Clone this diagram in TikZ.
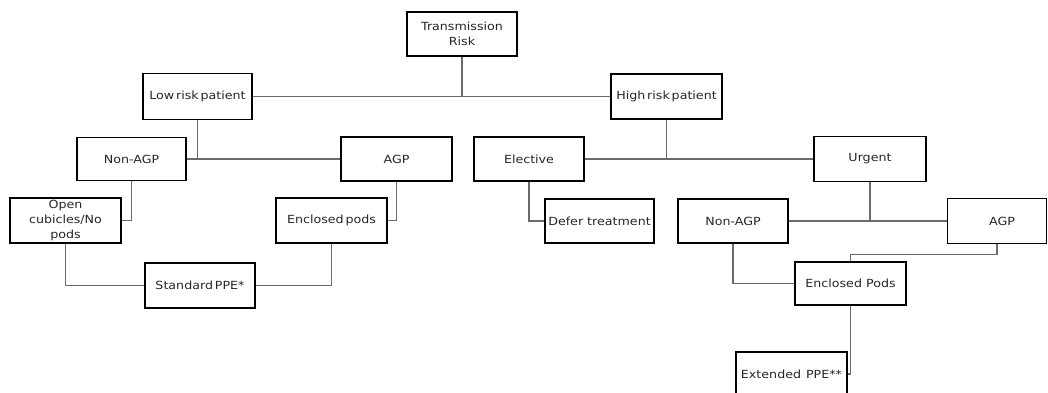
\documentclass[tikz,border=0pt]{standalone}
\usepackage{fontspec}
\newfontfamily\boxfont[FakeStretch=1.13]{DejaVu Sans}
\begin{document}
\begin{tikzpicture}[x=1pt,y=-1pt,
  box/.style={draw=black,line width=1.7pt,fill=white,text=black!85,
    font=\boxfont\fontsize{11.2}{14.5}\selectfont,align=center,
    inner sep=1pt,minimum width=#1,minimum height=44pt},
  box/.default=110pt,
  link/.style={draw=black!58,line width=1.3pt}]
\clip (0,0) rectangle (1048,392);
\fill[white] (0,0) rectangle (1048,392);
% nodes
\node[box] (tr) at (462,34) {Transmission\\Risk};
\node[box=109pt,minimum height=46pt] (low) at (197.5,96.5) {Low\,risk\,patient};
\node[box=111pt,minimum height=45pt] (high) at (666.5,96.5) {High\,risk\,patient};
\node[box=109pt,minimum height=43pt] (nonl) at (131.5,159) {Non-AGP};
\node[box=111pt] (agpl) at (396.5,159) {AGP};
\node[box] (elec) at (529,159) {Elective};
\node[box=112pt,minimum height=45pt] (urg) at (870,159) {Urgent};
\node[box=111pt,minimum height=45pt] (open) at (65.5,220.5) {Open\\cubicles/No\\pods};
\node[box=111pt,minimum height=45pt] (encl) at (331.5,220.5) {Enclosed\,pods};
\node[box=109pt] (defer) at (599.5,221) {Defer treatment};
\node[box] (nonr) at (733,221) {Non-AGP};
\node[box=99pt,minimum height=45pt] (agpr) at (997,221) {\hspace*{10pt}AGP};
\node[box=110pt,minimum height=45pt] (std) at (200,285.5) {Standard\,PPE*};
\node[box=111pt,minimum height=43pt] (enclr) at (850.5,283.5) {Enclosed Pods};
\node[box=111pt] (ext) at (791.5,374) {Extended\hspace{5pt}PPE**};
% junction coordinates
\coordinate (j0) at (tr.south |- low.east);
\coordinate (j1) at (low.south |- nonl.east);
\coordinate (j2) at (high.south |- elec.east);
\coordinate (j3) at (urg.south |- nonr.east);
\coordinate (j4) at ([yshift=-10pt]agpr.south);
% connectors
\draw[link] (tr) -- (j0);
\draw[link] (low.east) -- (high.west);
\draw[link] (low) -- (j1);
\draw[link] (nonl.east) -- (agpl.west);
\draw[link] (nonl.south) |- (open.east);
\draw[link] (agpl.south) |- (encl.east);
\draw[link] (open.south) |- (std.west);
\draw[link] (encl.south) |- (std.east);
\draw[link] (high) -- (j2);
\draw[link] (elec.east) -- (urg.west);
\draw[link] (elec.south) |- (defer.west);
\draw[link] (urg) -- (j3);
\draw[link] (nonr.east) -- (agpr.west);
\draw[link] (nonr.south) |- (enclr.west);
\draw[link] (agpr.south) -- (j4) -| (enclr.north);
\draw[link] (enclr.south) |- (ext.east);
\end{tikzpicture}
\end{document}
